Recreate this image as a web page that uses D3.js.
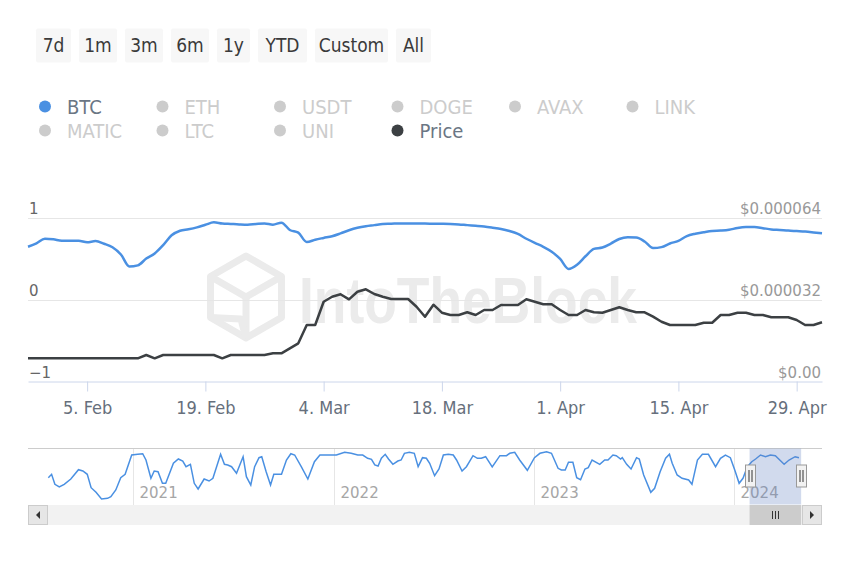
<!DOCTYPE html>
<html><head><meta charset="utf-8">
<script src="https://cdn.jsdelivr.net/npm/d3@7"></script>
<style>body{margin:0;background:#fff}svg{display:block}</style>
</head><body><svg id="c" width="850" height="567"></svg>
<script>
// ---------- DATA ----------
const rangeButtons = ["7d","1m","3m","6m","1y","YTD","Custom","All"];
const legendNames = ["BTC","ETH","USDT","DOGE","AVAX","LINK","MATIC","LTC","UNI","Price"];
const activeSeries = ["BTC","Price"];
const startDate = "2024-01-29"; // daily points
const btc = [0.643,0.684,0.741,0.734,0.717,0.717,0.716,0.699,0.712,0.680,
  0.637,0.549,0.402,0.416,0.499,0.561,0.663,0.783,0.839,0.857,
  0.880,0.911,0.941,0.926,0.921,0.916,0.913,0.921,0.927,0.913,
  0.937,0.848,0.815,0.701,0.729,0.751,0.772,0.806,0.844,0.874,
  0.894,0.907,0.921,0.924,0.928,0.928,0.927,0.926,0.924,0.923,
  0.921,0.916,0.907,0.899,0.890,0.876,0.860,0.835,0.799,0.741,
  0.690,0.643,0.583,0.494,0.373,0.424,0.527,0.617,0.634,0.682,
  0.738,0.759,0.755,0.707,0.628,0.639,0.683,0.715,0.774,0.802,
  0.820,0.835,0.840,0.850,0.873,0.884,0.884,0.870,0.855,0.848,
  0.840,0.834,0.828,0.818,0.807];
const price = [9.05e-6,9.05e-6,9.05e-6,9.05e-6,9.05e-6,9.05e-6,9.05e-6,9.05e-6,9.05e-6,9.05e-6,
  9.05e-6,9.05e-6,9.05e-6,9.05e-6,10.34e-6,9.05e-6,10.34e-6,10.34e-6,10.34e-6,10.34e-6,
  10.34e-6,10.34e-6,10.34e-6,9.05e-6,10.34e-6,10.34e-6,10.34e-6,10.34e-6,10.34e-6,11.0e-6,
  11.0e-6,12.95e-6,14.9e-6,22.05e-6,22.05e-6,31.14e-6,33.09e-6,34.03e-6,32.07e-6,35.04e-6,
  35.98e-6,34.14e-6,33.09e-6,32.19e-6,32.19e-6,32.19e-6,29.19e-6,25.29e-6,29.97e-6,26.85e-6,
  25.95e-6,25.95e-6,27.0e-6,25.95e-6,27.9e-6,27.9e-6,29.85e-6,29.85e-6,29.85e-6,32.07e-6,
  31.14e-6,30.12e-6,30.12e-6,27.9e-6,25.95e-6,25.95e-6,27.9e-6,27.0e-6,26.85e-6,27.9e-6,
  28.95e-6,27.9e-6,27.0e-6,27.0e-6,25.29e-6,23.33e-6,22.05e-6,22.05e-6,22.05e-6,22.05e-6,
  22.94e-6,22.94e-6,25.95e-6,25.95e-6,26.85e-6,26.85e-6,25.95e-6,25.95e-6,25.05e-6,25.05e-6,
  25.05e-6,24.0e-6,22.05e-6,22.05e-6,23.1e-6];
const leftTicks = [-1, 0, 1];
const rightTicks = [0, 0.000032, 0.000064];
const rightTickLabels = ["$0.00","$0.000032","$0.000064"];
const xTickDates = ["2024-02-05","2024-02-19","2024-03-04","2024-03-18","2024-04-01","2024-04-15","2024-04-29"];
const navYears = ["2021-01-01","2022-01-01","2023-01-01","2024-01-01"];
const navDates = ["2020-07-30","2020-08-05","2020-08-11","2020-08-19","2020-08-28","2020-09-09","2020-09-23","2020-10-01","2020-10-09","2020-10-16",
  "2020-10-25","2020-11-04","2020-11-15","2020-11-21","2020-11-30","2020-12-09","2020-12-17","2020-12-29","2021-01-09","2021-01-18",
  "2021-01-24","2021-02-02","2021-02-08","2021-02-15","2021-02-23","2021-03-01","2021-03-15","2021-03-24","2021-04-01","2021-04-07",
  "2021-04-15","2021-04-22","2021-04-29","2021-05-10","2021-05-19","2021-05-26","2021-06-09","2021-06-16","2021-06-22","2021-06-29",
  "2021-07-08","2021-07-20","2021-07-26","2021-08-03","2021-08-10","2021-08-18","2021-08-23","2021-08-31","2021-09-08","2021-09-14",
  "2021-09-28","2021-10-07","2021-10-15","2021-10-22","2021-11-03","2021-11-15","2021-11-27","2021-12-07","2021-12-22","2022-01-06",
  "2022-01-21","2022-02-02","2022-02-14","2022-02-23","2022-03-04","2022-03-11","2022-03-17","2022-03-23","2022-03-29","2022-04-05",
  "2022-04-11","2022-04-19","2022-04-28","2022-05-04","2022-05-10","2022-05-19","2022-05-28","2022-06-04","2022-06-12","2022-06-19",
  "2022-06-25","2022-07-04","2022-07-12","2022-07-20","2022-07-29","2022-08-07","2022-08-13","2022-08-23","2022-08-31","2022-09-12",
  "2022-09-20","2022-09-27","2022-10-05","2022-10-17","2022-10-31","2022-11-12","2022-11-18","2022-11-27","2022-12-06","2022-12-20",
  "2023-01-02","2023-01-12","2023-01-24","2023-02-02","2023-02-14","2023-02-20","2023-02-27","2023-03-05","2023-03-13","2023-03-20",
  "2023-03-27","2023-04-04","2023-04-10","2023-04-17","2023-05-01","2023-05-10","2023-05-16","2023-05-25","2023-05-31","2023-06-08",
  "2023-06-11","2023-06-19","2023-06-27","2023-07-07","2023-07-12","2023-07-20","2023-08-02","2023-08-09","2023-08-19","2023-08-29",
  "2023-09-05","2023-09-10","2023-09-19","2023-09-28","2023-10-10","2023-10-16","2023-10-26","2023-11-04","2023-11-15","2023-11-28",
  "2023-12-07","2023-12-16","2023-12-25","2024-01-02","2024-01-10","2024-01-17","2024-01-25","2024-02-02","2024-02-09","2024-02-18",
  "2024-02-27","2024-03-07","2024-03-16","2024-03-24","2024-04-01","2024-04-10","2024-04-21","2024-04-28"];
const navValues = [-0.092,0.05,-0.367,-0.479,-0.367,-0.146,0.242,0.188,0.05,-0.508,
  -0.70,-0.979,-0.95,-0.883,-0.604,-0.092,0.05,0.854,0.883,0.908,
  0.646,-0.117,0.188,0.158,-0.325,-0.325,0.508,0.688,0.604,0.367,
  0.467,-0.325,-0.563,-0.146,-0.229,-0.117,0.883,0.467,0.438,0.367,
  0.092,0.783,-0.05,-0.396,0.367,0.742,0.783,0.158,-0.396,0.05,
  0.05,0.646,0.908,0.854,0.367,-0.146,0.575,0.854,0.854,0.854,
  0.967,0.925,0.854,0.854,0.717,0.675,0.438,0.396,0.717,0.883,
  0.688,0.467,0.604,0.646,0.925,0.967,0.925,0.367,0.742,0.717,
  0.508,-0.008,0.271,0.854,0.883,0.854,0.646,0.188,0.367,0.825,
  0.717,0.717,0.783,0.354,0.825,0.825,0.925,0.967,0.646,0.217,
  0.742,0.925,0.992,0.925,0.30,0.229,0.229,0.55,0.55,-0.092,
  -0.175,0.271,0.325,0.646,0.467,0.646,0.646,0.854,0.825,0.688,
  0.742,0.467,0.271,0.742,0.688,0.021,-0.70,-0.533,0.158,0.717,
  0.883,0.508,0.021,-0.117,-0.188,-0.367,0.646,0.883,0.883,0.367,
  0.717,0.854,0.742,0.229,-0.325,-0.117,0.367,0.575,0.688,0.854,
  0.783,0.854,0.825,0.646,0.467,0.646,0.783,0.742];
const navExtent = ["2020-06-23","2024-06-09"];

// ---------- SETUP ----------
const parse = d3.utcParse("%Y-%m-%d");
const svg = d3.select("#c");
const narrow = '"Liberation Sans Narrow","DejaVu Sans Condensed",sans-serif';
const plain = '"DejaVu Sans","Liberation Sans",sans-serif';
const BLUE = "#4a90e2", DARK = "#3c4043";

const t0 = parse(startDate);
const days = btc.map((_, i) => d3.utcDay.offset(t0, i));
const L = 28, R = 822;
const x = d3.scaleUtc().domain([days[0], days[days.length - 1]]).range([L, R]);
const yL = d3.scaleLinear().domain([-1, 1]).range([381.5, 217.5]);
const yR = d3.scaleLinear().domain([0, 0.000064]).range([381.5, 217.5]);

// ---------- RANGE BUTTONS ----------
const btnW = [35, 38, 38, 38, 33, 49, 73, 35];
let bx = 36;
const btnG = svg.append("g");
rangeButtons.forEach((b, i) => {
  btnG.append("rect").attr("x", bx).attr("y", 28.5).attr("width", btnW[i]).attr("height", 34)
    .attr("rx", 2).attr("fill", "#f7f7f7");
  btnG.append("text").attr("x", bx + btnW[i] / 2).attr("y", 52).attr("text-anchor", "middle")
    .attr("font-family", narrow).attr("font-size", 19).attr("fill", "#3a3a3a").text(b);
  bx += btnW[i] + 8;
});

// ---------- LEGEND ----------
const lg = svg.append("g");
legendNames.forEach((n, i) => {
  const col = i % 6, row = Math.floor(i / 6);
  const cx = 45 + col * 117.5, cy = 106.5 + row * 24;
  const on = activeSeries.includes(n);
  const col1 = n === "BTC" ? BLUE : (n === "Price" ? DARK : "#cccccc");
  lg.append("circle").attr("cx", cx).attr("cy", cy).attr("r", 6).attr("fill", col1);
  lg.append("text").attr("x", cx + 22).attr("y", cy + 7).attr("font-family", narrow).attr("font-size", 20)
    .attr("fill", on ? "#6b7684" : "#cccccc").text(n);
});

// ---------- WATERMARK ----------
const wm = svg.append("g").attr("fill", "none").attr("stroke", "#ebebeb").attr("stroke-width", 7).attr("stroke-linejoin", "round");
const hc = [246, 297], hr = 41;
const hex = d3.range(6).map(k => { const a = (Math.PI / 180) * (60 * k - 90); return [hc[0] + hr * Math.cos(a), hc[1] + hr * Math.sin(a)]; });
wm.append("path").attr("d", d3.line()(hex) + "Z");
wm.append("path").attr("d", d3.line()([hex[5], hc, hex[1]]));
wm.append("path").attr("d", d3.line()([hc, hex[3]]));
wm.append("path").attr("d", d3.line()([hex[4], [hc[0] - 5, hc[1] + 22], hex[3]]));
svg.append("text").attr("x", 299).attr("y", 323).attr("font-family", '"Liberation Sans",sans-serif')
  .attr("font-weight", "bold").attr("font-size", 65).attr("fill", "#ebebeb")
  .attr("textLength", 338).attr("lengthAdjust", "spacingAndGlyphs").text("IntoTheBlock");

// ---------- GRID + AXES ----------
const grid = svg.append("g");
leftTicks.filter(t => t > -1).forEach(t => {
  grid.append("line").attr("x1", L).attr("x2", R).attr("y1", Math.round(yL(t)) + 0.5).attr("y2", Math.round(yL(t)) + 0.5)
    .attr("stroke", "#e6e6e6");
});
leftTicks.forEach(t => {
  svg.append("text").attr("x", 29).attr("y", yL(t) - 4).attr("font-family", plain).attr("font-size", 15)
    .attr("fill", "#666").text(t === -1 ? "\u22121" : String(t));
});
rightTicks.forEach((t, i) => {
  svg.append("text").attr("x", 821).attr("y", yR(t) - 4).attr("text-anchor", "end").attr("font-family", plain)
    .attr("font-size", 15).attr("fill", "#999").text(rightTickLabels[i]);
});

const xAxis = d3.axisBottom(x).tickValues(xTickDates.map(parse)).tickFormat(d3.utcFormat("%-d. %b"))
  .tickSize(10).tickPadding(6).tickSizeOuter(0);
const xg = svg.append("g").attr("transform", "translate(0,381.5)").call(xAxis);
xg.select(".domain").attr("stroke", "#ccd6eb");
xg.selectAll(".tick line").attr("stroke", "#ccd6eb");
xg.selectAll(".tick text").attr("font-family", narrow).attr("font-size", 18).attr("fill", "#666f7c").attr("dy", "0.9em");

// ---------- SERIES ----------
svg.append("path").datum(price).attr("fill", "none").attr("stroke", DARK).attr("stroke-width", 2.5)
  .attr("stroke-linejoin", "round")
  .attr("d", d3.line().x((d, i) => x(days[i])).y(d => yR(d)));
svg.append("path").datum(btc).attr("fill", "none").attr("stroke", BLUE).attr("stroke-width", 2.5)
  .attr("d", d3.line().x((d, i) => x(days[i])).y(d => yL(d)).curve(d3.curveMonotoneX));

// ---------- NAVIGATOR ----------
const nx = d3.scaleUtc().domain(navExtent.map(parse)).range([L, R]);
const ny = d3.scaleLinear().domain([-1, 1]).range([499.5, 451.5]);
const nav = svg.append("g");
navYears.forEach(yv => {
  const xx = Math.round(nx(parse(yv))) + 0.5;
  nav.append("line").attr("x1", xx).attr("x2", xx).attr("y1", 448).attr("y2", 505).attr("stroke", "#e6e6e6");
  nav.append("text").attr("x", xx + 6).attr("y", 498).attr("font-family", plain).attr("font-size", 15)
    .attr("fill", "#a6a6a6").text(yv.slice(0, 4));
});
nav.append("line").attr("x1", L).attr("x2", R).attr("y1", 448.5).attr("y2", 448.5).attr("stroke", "#cccccc");
nav.append("path").datum(navValues).attr("fill", "none").attr("stroke", BLUE).attr("stroke-width", 1.5)
  .attr("d", d3.line().x((d, i) => nx(parse(navDates[i]))).y(d => ny(d)));
const s0 = nx(days[0]), s1 = nx(days[days.length - 1]);
nav.append("rect").attr("x", s0).attr("y", 448.5).attr("width", s1 - s0).attr("height", 56)
  .attr("fill", "rgba(102,133,194,0.3)");
[s0, s1].forEach(hx => {
  const g = nav.append("g").attr("transform", `translate(${Math.round(hx) + 0.5},476)`);
  g.append("rect").attr("x", -5).attr("y", -11).attr("width", 10).attr("height", 22).attr("fill", "#f2f2f2").attr("stroke", "#999");
  g.append("line").attr("x1", -1.5).attr("x2", -1.5).attr("y1", -6).attr("y2", 6).attr("stroke", "#333");
  g.append("line").attr("x1", 1.5).attr("x2", 1.5).attr("y1", -6).attr("y2", 6).attr("stroke", "#333");
});

// ---------- SCROLLBAR ----------
const sb = svg.append("g");
sb.append("rect").attr("x", L).attr("y", 505).attr("width", R - L).attr("height", 20).attr("fill", "#f2f2f2");
sb.append("rect").attr("x", s0).attr("y", 505).attr("width", s1 - s0).attr("height", 20).attr("fill", "#cccccc");
const gx = (s0 + s1) / 2;
[-3, 0, 3].forEach(o => sb.append("line").attr("x1", Math.round(gx + o) + 0.5).attr("x2", Math.round(gx + o) + 0.5)
  .attr("y1", 511).attr("y2", 519).attr("stroke", "#333"));
sb.append("rect").attr("x", L + 0.5).attr("y", 505.5).attr("width", 19).attr("height", 19).attr("fill", "#e6e6e6").attr("stroke", "#cccccc");
sb.append("rect").attr("x", R - 19.5).attr("y", 505.5).attr("width", 19).attr("height", 19).attr("fill", "#e6e6e6").attr("stroke", "#cccccc");
sb.append("path").attr("d", `M${L + 12},511 L${L + 12},519 L${L + 8},515 Z`).attr("fill", "#333");
sb.append("path").attr("d", `M${R - 12},511 L${R - 12},519 L${R - 8},515 Z`).attr("fill", "#333");
</script>
</body></html>
